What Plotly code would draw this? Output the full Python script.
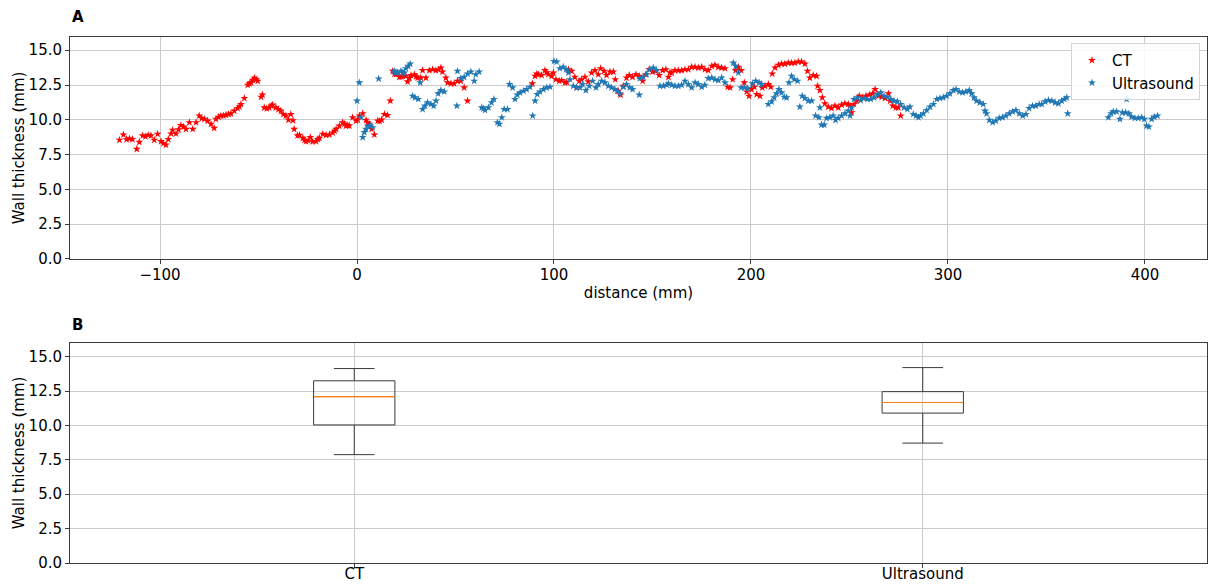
import plotly.graph_objects as go

# Wall thickness along the vessel, measured by CT
ct_distance = [
    -120.6, -118.6, -117.0, -115.5, -114.0, -111.8, -110.5, -108.8, -107.4, -106.0,
    -104.6, -102.9, -101.2, -99.5, -98.3, -97.0, -95.8, -94.4, -93.6, -91.9,
    -90.6, -89.4, -88.0, -86.8, -85.1, -83.4, -81.7, -80.1, -78.8, -77.5,
    -75.8, -74.1, -72.5, -71.6, -70.3, -69.1, -67.8, -66.5, -65.2, -64.0,
    -62.3, -60.6, -59.7, -58.9, -57.2, -55.5, -54.6, -53.8, -52.9, -52.1,
    -51.2, -50.4, -48.7, -48.0, -47.1, -45.8, -44.6, -43.5, -42.9, -41.2,
    -39.9, -38.7, -37.4, -36.1, -34.8, -33.6, -32.5, -31.9, -30.2, -29.2,
    -27.5, -26.6, -25.9, -24.8, -23.7, -22.5, -20.8, -19.9, -19.1, -17.4,
    -15.7, -14.0, -12.3, -11.4, -10.6, -9.0, -7.3, -6.4, -5.6, -4.7,
    -3.9, -2.2, -0.5, 0.4, 1.2, 2.9, 4.6, 5.4, 6.3, 7.4,
    8.8, 10.5, 11.5, 12.5, 13.9, 15.5, 16.9, 18.1, 19.0, 19.8,
    21.5, 22.4, 23.2, 24.8, 25.7, 26.6, 27.4, 29.1, 30.0, 30.8,
    32.4, 33.3, 35.0, 36.7, 38.4, 40.0, 41.3, 42.6, 43.4, 45.1,
    46.0, 47.7, 49.3, 51.0, 52.7, 54.4, 56.1,
    89.0, 90.4, 91.3, 92.1, 93.7, 95.4, 96.3, 97.1, 98.8, 99.7,
    101.0, 102.7, 103.9, 105.6, 106.5, 107.3, 109.0, 110.6, 111.5, 112.8,
    114.0, 115.7, 117.4, 119.1, 120.8, 122.5, 123.7, 125.4, 126.7, 128.4,
    130.1, 131.1, 132.6, 133.8, 135.2, 136.8, 138.2, 139.9, 141.6, 143.3,
    145.0, 146.6, 148.3, 150.0, 151.7, 153.4, 155.1, 156.8, 158.1, 158.9,
    159.8, 161.4, 163.1, 164.8, 166.5, 168.2, 169.9, 171.6, 173.3, 175.0,
    176.6, 178.3, 180.1, 181.7, 183.4, 185.1, 186.8, 188.2, 189.4, 190.7,
    192.2, 193.6, 195.0, 196.6, 197.8, 199.0, 200.3, 201.7, 202.9, 204.6,
    205.7, 207.1, 208.8, 210.1, 210.8, 212.2, 213.9, 215.5, 217.2, 218.9,
    220.6, 222.3, 224.0, 225.7, 227.4, 228.7, 229.9, 231.6, 233.3, 233.8,
    235.0, 236.2, 237.5, 239.2, 240.9, 242.6, 244.3, 246.0, 247.7, 249.4,
    250.3, 251.1, 252.3, 253.7, 255.0, 256.7, 258.4, 260.1, 261.8, 263.0,
    264.7, 266.4, 268.1, 269.8, 270.6, 272.0, 273.6, 274.8, 276.0,
]
ct_thickness = [
    8.55, 8.93, 8.60, 8.65, 8.60, 7.90, 8.40, 8.86, 8.80, 8.90,
    8.86, 8.55, 8.98, 8.45, 8.30, 8.20, 8.60, 9.00, 9.26, 9.00,
    9.30, 9.60, 9.50, 9.33, 9.81, 9.33, 9.81, 10.29, 10.10, 10.05,
    9.93, 9.69, 9.40, 10.05, 10.20, 10.29, 10.30, 10.36, 10.40, 10.45,
    10.64, 10.83, 10.95, 11.12, 11.55, 12.50, 12.60, 12.67, 12.85, 13.00,
    12.90, 12.79, 11.64, 11.80, 10.88, 10.80, 10.88, 11.00, 11.07, 10.88,
    10.75, 10.64, 10.40, 10.29, 10.00, 10.40, 9.95, 9.33, 8.86, 8.90,
    8.69, 8.55, 8.45, 8.50, 8.74, 8.43, 8.45, 8.60, 8.69, 8.98,
    8.90, 8.93, 9.07, 9.20, 9.33, 9.57, 9.81, 9.70, 9.57, 9.60,
    9.57, 10.17, 9.93, 10.00, 10.29, 10.45, 9.98, 9.80, 9.69, 9.33,
    8.93, 9.93, 9.90, 10.00, 10.40, 10.33, 11.36, 13.50, 13.30, 13.26,
    13.07, 13.10, 13.14, 13.14, 12.74, 13.00, 13.20, 13.26, 13.10, 13.02,
    13.02, 13.55, 13.02, 13.55, 13.62, 13.55, 13.60, 13.74, 13.45, 13.02,
    12.67, 12.60, 12.60, 12.79, 12.79, 12.31, 11.36,
    12.60, 13.14, 13.30, 13.26, 13.20, 13.55, 13.40, 13.26, 13.14, 13.38,
    12.90, 12.79, 12.83, 12.67, 12.70, 13.62, 13.50, 13.07, 12.31, 12.79,
    12.90, 13.07, 12.74, 13.38, 13.55, 13.26, 13.69, 13.50, 13.20, 13.45,
    13.45, 12.90, 12.07, 11.79, 12.43, 13.02, 13.20, 13.07, 13.26, 13.14,
    12.79, 13.26, 13.62, 13.45, 13.50, 13.20, 13.55, 13.62, 13.07, 13.40,
    13.38, 13.55, 13.55, 13.55, 13.62, 13.62, 13.79, 13.79, 13.74, 13.79,
    13.62, 13.55, 13.86, 13.93, 13.79, 13.74, 13.69, 12.36, 12.31, 12.90,
    13.55, 13.79, 13.55, 12.67, 12.02, 11.71, 12.19, 12.36, 11.83, 11.71,
    12.31, 12.43, 12.55, 12.36, 13.31, 13.74, 13.93, 14.02, 14.02, 14.09,
    14.09, 14.09, 14.17, 14.17, 14.02, 13.50, 13.02, 13.20, 13.14, 12.43,
    12.12, 11.60, 11.17, 10.93, 10.83, 11.00, 10.88, 11.07, 11.17, 11.12,
    11.00, 10.52, 11.12, 11.36, 11.71, 11.60, 11.71, 11.79, 11.88, 12.19,
    11.71, 11.64, 11.55, 11.88, 11.36, 11.00, 10.88, 10.88, 10.29,
]

# Wall thickness along the vessel, measured by ultrasound
us_distance = [
    0.0, 1.2, 2.0, 2.9, 3.7, 4.6, 5.4, 6.8, 7.9, 11.0,
    18.9, 19.8, 20.6, 22.3, 23.2, 24.0, 24.8, 26.0, 27.0, 28.2,
    29.4, 31.1, 32.1, 33.3, 34.5, 35.8, 37.5, 38.9, 40.1, 41.2,
    42.6, 44.3, 50.7, 51.0, 52.7, 54.4, 56.1, 57.8, 59.5, 60.3,
    62.0, 63.3, 64.2, 65.0, 66.7, 68.3, 69.5, 71.3, 72.3, 73.5,
    74.7, 76.4, 77.4, 79.0, 80.2, 81.4, 82.8, 84.5, 86.1, 87.8,
    89.2, 90.4, 91.5, 92.9, 94.6, 96.3, 98.0, 100.0, 101.4, 103.0,
    104.7, 106.1, 107.3, 108.1, 109.8, 111.5, 113.2, 114.5, 116.2, 117.9,
    119.6, 121.3, 122.5, 124.2, 125.9, 127.6, 129.2, 130.9, 132.1, 133.5,
    135.2, 136.8, 138.5, 139.9, 143.3, 143.6, 145.3, 147.0, 148.7, 150.4,
    152.1, 153.8, 155.5, 157.2, 158.1, 159.8, 161.4, 163.1, 164.8, 166.5,
    168.2, 169.9, 171.6, 173.3, 175.0, 176.6, 178.3, 180.1, 181.7, 183.4,
    185.1, 186.8, 191.0, 192.2, 193.6, 195.0, 196.6, 198.3, 200.7, 202.4,
    204.1, 205.4, 208.8, 210.5, 211.8, 213.0, 214.2, 215.5, 216.9, 218.1,
    219.3, 220.6, 222.0, 223.7, 224.8, 226.0, 227.4, 229.1, 230.8, 232.8,
    234.5, 235.0, 235.8, 237.2, 238.4, 240.0, 241.7, 242.9, 244.3, 246.0,
    247.7, 249.4, 250.3, 251.1, 252.3, 254.0, 255.7, 257.4, 259.1, 260.8,
    262.5, 264.2, 265.9, 267.6, 269.3, 271.0, 272.6, 274.3, 276.0, 277.7,
    279.4, 280.7, 282.4, 283.8, 285.0, 286.1, 287.5, 289.2, 290.9, 292.6,
    294.3, 296.0, 297.6, 299.3, 301.0, 302.7, 304.1, 305.7, 307.4, 309.1,
    310.8, 312.0, 313.2, 314.5, 316.2, 317.9, 318.8, 319.6, 321.0, 322.7,
    324.3, 326.0, 327.7, 329.4, 331.1, 332.8, 334.5, 336.2, 337.9, 339.6,
    341.2, 342.9, 344.6, 346.3, 347.6, 349.3, 351.0, 352.7, 354.4, 356.1,
    357.7, 359.1, 360.3, 360.8,
    381.4, 382.8, 383.9, 385.6, 387.3, 388.5, 390.2, 390.7, 391.9, 393.2,
    394.9, 396.6, 398.3, 399.7, 400.8, 402.0, 403.4, 404.7, 406.4,
]
us_thickness = [
    11.36, 12.67, 10.17, 8.74, 9.10, 9.33, 9.57, 9.57, 9.45, 12.95,
    13.50, 13.40, 13.38, 13.50, 13.40, 13.38, 13.69, 13.86, 14.02, 11.71,
    11.60, 11.48, 12.67, 10.76, 11.00, 11.24, 11.12, 11.00, 11.36, 11.88,
    12.12, 12.02, 11.00, 13.50, 12.98, 13.07, 13.31, 13.45, 12.79, 13.26,
    13.45, 10.88, 10.80, 10.69, 10.88, 11.24, 11.48, 9.81, 9.69, 10.17,
    10.76, 10.76, 12.55, 12.31, 11.48, 11.79, 11.95, 12.07, 12.19, 12.36,
    10.29, 11.36, 11.83, 12.02, 12.19, 12.31, 12.36, 14.21, 14.17, 13.69,
    13.79, 13.62, 13.38, 12.90, 12.43, 12.31, 12.31, 12.55, 12.12, 12.43,
    12.79, 12.31, 12.55, 12.79, 12.67, 12.43, 12.31, 12.19, 12.07, 11.88,
    12.36, 12.55, 12.31, 12.19, 11.79, 12.98, 13.07, 13.26, 13.62, 13.74,
    13.55, 12.43, 12.43, 12.50, 12.60, 12.50, 12.43, 12.43, 12.50, 12.79,
    12.55, 12.31, 12.67, 12.55, 12.36, 12.50, 12.98, 13.02, 12.90, 12.83,
    13.02, 12.67, 14.09, 13.86, 13.38, 12.31, 12.31, 12.26, 12.60, 12.79,
    12.67, 12.55, 11.12, 11.31, 11.60, 11.88, 12.19, 11.95, 11.64, 11.60,
    12.67, 13.14, 12.90, 12.79, 10.93, 11.71, 11.55, 11.36, 11.36, 10.29,
    10.17, 10.88, 9.64, 9.64, 10.12, 10.17, 10.29, 9.98, 10.12, 10.29,
    10.45, 10.64, 10.29, 10.88, 11.48, 11.60, 11.40, 11.55, 11.48, 11.48,
    11.60, 11.83, 11.95, 11.71, 11.64, 11.48, 11.36, 11.31, 11.12, 10.88,
    10.76, 10.93, 10.40, 10.29, 10.17, 10.29, 10.45, 10.69, 10.93, 11.12,
    11.48, 11.55, 11.60, 11.71, 11.88, 12.12, 12.19, 12.02, 11.95, 12.02,
    12.12, 11.88, 11.60, 11.36, 11.24, 11.12, 10.64, 10.45, 9.98, 9.81,
    9.93, 10.12, 10.17, 10.29, 10.45, 10.59, 10.69, 10.45, 10.29, 10.40,
    10.83, 11.00, 11.00, 11.12, 11.12, 11.31, 11.40, 11.36, 11.24, 11.17,
    11.36, 11.48, 11.60, 10.45,
    10.17, 10.45, 10.59, 10.59, 10.05, 10.52, 10.52, 11.48, 10.45, 10.21,
    10.12, 10.12, 10.17, 10.05, 9.57, 9.50, 10.05, 10.21, 10.29,
]

# Box plot summary per modality
box_labels = ["CT", "Ultrasound"]
box_positions = [1, 2]
box_lower_whisker = [7.88, 8.72]
box_q1 = [10.04, 10.90]
box_median = [12.10, 11.67]
box_q3 = [13.25, 12.46]
box_upper_whisker = [14.14, 14.21]
box_width = 0.143

FONT = "DejaVu Sans"
TEXT = "#000000"
GRID = "#cbcbcb"
SPINE = "#3a3a3a"
CT_COLOR = "#ff0000"
US_COLOR = "#1f77b4"
MEDIAN_COLOR = "#ff7f0e"

fig = go.Figure()

fig.add_trace(go.Scatter(
    x=ct_distance, y=ct_thickness, mode="markers", name="CT",
    marker=dict(symbol="star", size=6, color=CT_COLOR, line=dict(width=0)),
    xaxis="x", yaxis="y",
))
fig.add_trace(go.Scatter(
    x=us_distance, y=us_thickness, mode="markers", name="Ultrasound",
    marker=dict(symbol="star", size=6, color=US_COLOR, line=dict(width=0)),
    xaxis="x", yaxis="y",
))

for i, label in enumerate(box_labels):
    fig.add_trace(go.Box(
        x=[box_positions[i]],
        q1=[box_q1[i]], median=[box_median[i]], q3=[box_q3[i]],
        lowerfence=[box_lower_whisker[i]], upperfence=[box_upper_whisker[i]],
        width=box_width, whiskerwidth=0.5,
        line=dict(color=SPINE, width=1), fillcolor="rgba(0,0,0,0)",
        boxpoints=False, showlegend=False, name=label,
        xaxis="x2", yaxis="y2",
    ))
    half = box_width / 2
    fig.add_trace(go.Scatter(
        x=[box_positions[i] - half, box_positions[i] + half],
        y=[box_median[i], box_median[i]],
        mode="lines", line=dict(color=MEDIAN_COLOR, width=1.2),
        showlegend=False, hoverinfo="skip",
        xaxis="x2", yaxis="y2",
    ))

axis_common = dict(
    showgrid=True, gridcolor=GRID, gridwidth=1,
    showline=True, linecolor=SPINE, linewidth=1, mirror=True,
    ticks="outside", ticklen=4, tickcolor=SPINE,
    tickfont=dict(family=FONT, size=15, color=TEXT),
    zeroline=False, automargin=False,
)
ytitle_font = dict(family=FONT, size=15, color=TEXT)

fig.update_layout(
    width=1215, height=584,
    margin=dict(l=70, r=8, t=37, b=21),
    paper_bgcolor="white", plot_bgcolor="white",
    font=dict(family=FONT, size=15, color=TEXT),
    xaxis=dict(
        domain=[0, 1], anchor="y", range=[-145.7, 431.5],
        tickvals=[-100, 0, 100, 200, 300, 400],
        ticklabelstandoff=-2,
        title=dict(text="distance (mm)", font=ytitle_font, standoff=4),
        **axis_common,
    ),
    yaxis=dict(
        domain=[0.578, 1.0], anchor="x", range=[0, 15.95],
        tickvals=[0, 2.5, 5, 7.5, 10, 12.5, 15], tickformat=".1f",
        title=dict(text="Wall thickness (mm)", font=ytitle_font, standoff=0),
        **axis_common,
    ),
    xaxis2=dict(
        domain=[0, 1], anchor="y2", range=[0.5, 2.5],
        tickvals=box_positions, ticktext=box_labels,
        ticklabelstandoff=-7,
        **axis_common,
    ),
    yaxis2=dict(
        domain=[0, 0.4183], anchor="x2", range=[0, 16.0],
        tickvals=[0, 2.5, 5, 7.5, 10, 12.5, 15], tickformat=".1f",
        title=dict(text="Wall thickness (mm)", font=ytitle_font, standoff=0),
        **axis_common,
    ),
    legend=dict(
        x=0.9938, y=0.9886, xanchor="right", yanchor="top",
        bgcolor="rgba(255,255,255,0.85)", bordercolor="#d5d5d5", borderwidth=1,
        font=dict(family=FONT, size=15, color=TEXT),
        tracegroupgap=4,
    ),
    annotations=[
        dict(text="<b>A</b>", x=0.0, y=1.0385, xref="paper", yref="paper",
             xanchor="left", yanchor="middle", showarrow=False,
             font=dict(family=FONT, size=15, color=TEXT)),
        dict(text="<b>B</b>", x=0.0, y=0.4525, xref="paper", yref="paper",
             xanchor="left", yanchor="middle", showarrow=False,
             font=dict(family=FONT, size=15, color=TEXT)),
    ],
    showlegend=True,
)

fig.write_html("out.html")
